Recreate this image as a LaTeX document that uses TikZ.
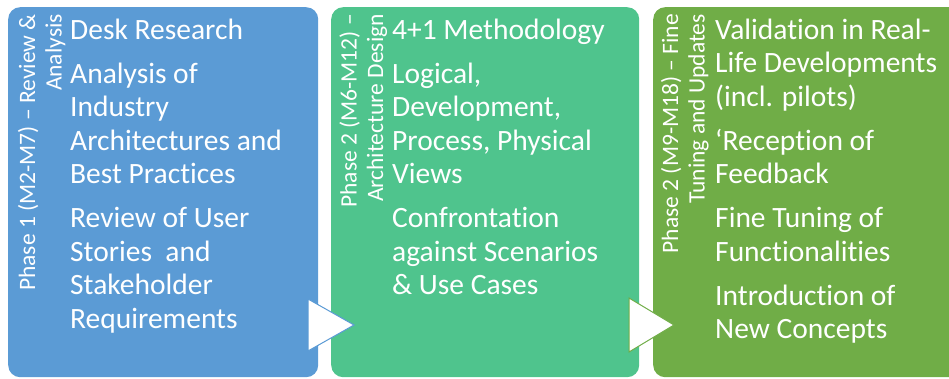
\documentclass[tikz,border=0pt]{standalone}
\usepackage{fontspec}
\setmainfont{Carlito}[Ligatures={NoCommon,NoContextual}]
\definecolor{phaseblue}{HTML}{5B9BD5}
\definecolor{phasegreen}{HTML}{4FC48D}
\definecolor{phaseolive}{HTML}{70AD47}
\tikzset{
  phasebox/.style={rounded corners=12pt, inner sep=0pt, anchor=north west,
    minimum height=370pt},
  itemtext/.style={text=white, align=left, anchor=base west, inner sep=0pt,
    font=\fontsize{29.5}{33.5}\selectfont},
  phasetitle/.style={text=white, align=right, rotate=90, anchor=base east,
    inner sep=0pt, font=\fontsize{23.5}{26.7}\selectfont},
  playmark/.style={fill=white, line width=1pt}
}
\begin{document}
\begin{tikzpicture}[x=1pt,y=-1pt]
\useasboundingbox (0,0) rectangle (949,379);
\clip (0,0) rectangle (949,379);

% the three phases
\node[phasebox, fill=phaseblue, minimum width=310pt] (phase1) at (8,7) {};
\node[phasebox, fill=phasegreen, minimum width=308pt] (phase2) at (331,7) {};
\node[phasebox, fill=phaseolive, minimum width=310pt] (phase3) at (653,7) {};

% play marks between phases
\filldraw[playmark, draw=phaseblue] (308,299) -- (354,325) -- (308,351) -- cycle;
\filldraw[playmark, draw=phaseolive] (629,298) -- (674,325) -- (629,352) -- cycle;

% vertical titles (base = last line)
\node[phasetitle] (title1) at (61.7,14) {Phase 1 (M2-M7) -- Review \&\\Analysis};
\node[phasetitle] (title2) at (383.2,14) {Phase 2 (M6-M12) --\\Architecture Design};
\node[phasetitle] (title3) at (704.7,14) {Phase 2 (M9-M18) -- Fine\\Tuning and Updates};

% items (base = last line)
\node[itemtext] (items1) at (70,328) {Desk Research\\[10.5pt]
  Analysis of\\Industry\\Architectures and\\Best Practices\\[10.5pt]
  Review of User\\Stories~ and\\Stakeholder\\Requirements};
\node[itemtext] (items2) at (392,294.5) {4+1 Methodology\\[10.5pt]
  Logical,\\Development,\\Process, Physical\\Views\\[10.5pt]
  Confrontation\\against Scenarios\\\& Use Cases};
\node[itemtext] (items3) at (715,338.5) {Validation in Real-\\Life Developments\\(incl. pilots)\\[10.5pt]
  ‘Reception of\\Feedback\\[10.5pt]
  Fine Tuning of\\Functionalities\\[10.5pt]
  Introduction of\\New Concepts};
\end{tikzpicture}
\end{document}
